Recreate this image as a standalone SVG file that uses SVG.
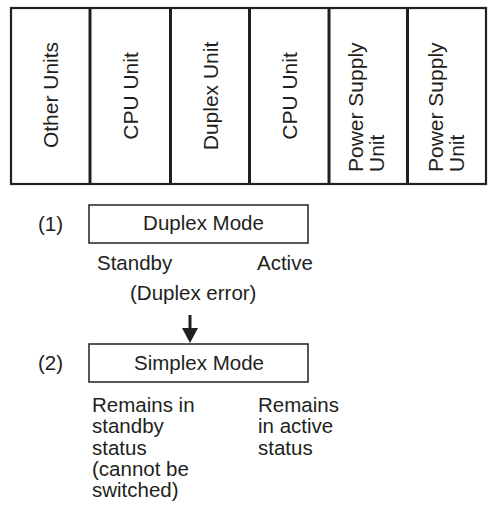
<svg xmlns="http://www.w3.org/2000/svg" width="488" height="506" viewBox="0 0 488 506">
<style>
text{font-family:"Liberation Sans",Arial,Helvetica,sans-serif;font-size:20.5px;fill:#231f20}
.u{font-size:21px}
.m{text-anchor:middle}
.box{fill:#fff;stroke:#231f20;stroke-width:1.5}
.div{stroke:#231f20;stroke-width:3}
</style>
<rect width="488" height="506" fill="#fff"/>
<g id="rack">
<rect x="11" y="8" width="475" height="176" fill="#fff" stroke="#231f20" stroke-width="2.2"/>
<line class="div" x1="90" y1="8" x2="90" y2="184"/>
<line class="div" x1="170.5" y1="8" x2="170.5" y2="184"/>
<line class="div" x1="249.5" y1="8" x2="249.5" y2="184"/>
<line class="div" x1="329" y1="8" x2="329" y2="184"/>
<line class="div" x1="407.5" y1="8" x2="407.5" y2="184"/>
</g>
<g id="other-units"><text class="u m" transform="translate(58,95) rotate(-90)">Other Units</text></g>
<g id="cpu-unit-1"><text class="u m" transform="translate(137.5,96) rotate(-90)">CPU Unit</text></g>
<g id="duplex-unit"><text class="u m" transform="translate(217.5,96) rotate(-90)">Duplex Unit</text></g>
<g id="cpu-unit-2"><text class="u m" transform="translate(297,96) rotate(-90)">CPU Unit</text></g>
<g id="power-supply-1"><text class="u" transform="translate(363,172) rotate(-90)">Power Supply<tspan x="0" dy="21">Unit</tspan></text></g>
<g id="power-supply-2"><text class="u" transform="translate(443,172) rotate(-90)">Power Supply<tspan x="0" dy="21">Unit</tspan></text></g>

<g id="duplex-mode">
<text x="38" y="231">(1)</text>
<rect class="box" x="89" y="205" width="219" height="38"/>
<text class="m" x="203.5" y="230">Duplex Mode</text>
<text x="97" y="270">Standby</text>
<text x="257" y="270">Active</text>
</g>
<g id="duplex-error"><text x="130" y="300">(Duplex error)</text></g>
<g id="connectors">
<line x1="190" y1="315" x2="190" y2="330" stroke="#231f20" stroke-width="3"/>
<polygon points="182,328 198,328 190,343" fill="#231f20"/>
</g>
<g id="simplex-mode">
<text x="38" y="370">(2)</text>
<rect class="box" x="89" y="344" width="219" height="38"/>
<text class="m" x="199" y="370">Simplex Mode</text>
<text x="92" y="412">Remains in<tspan x="92" y="433">standby</tspan><tspan x="92" y="455">status</tspan><tspan x="92" y="476">(cannot be</tspan><tspan x="92" y="497">switched)</tspan></text>
<text x="258" y="412">Remains<tspan x="258" y="433">in active</tspan><tspan x="258" y="455">status</tspan></text>
</g>
</svg>
